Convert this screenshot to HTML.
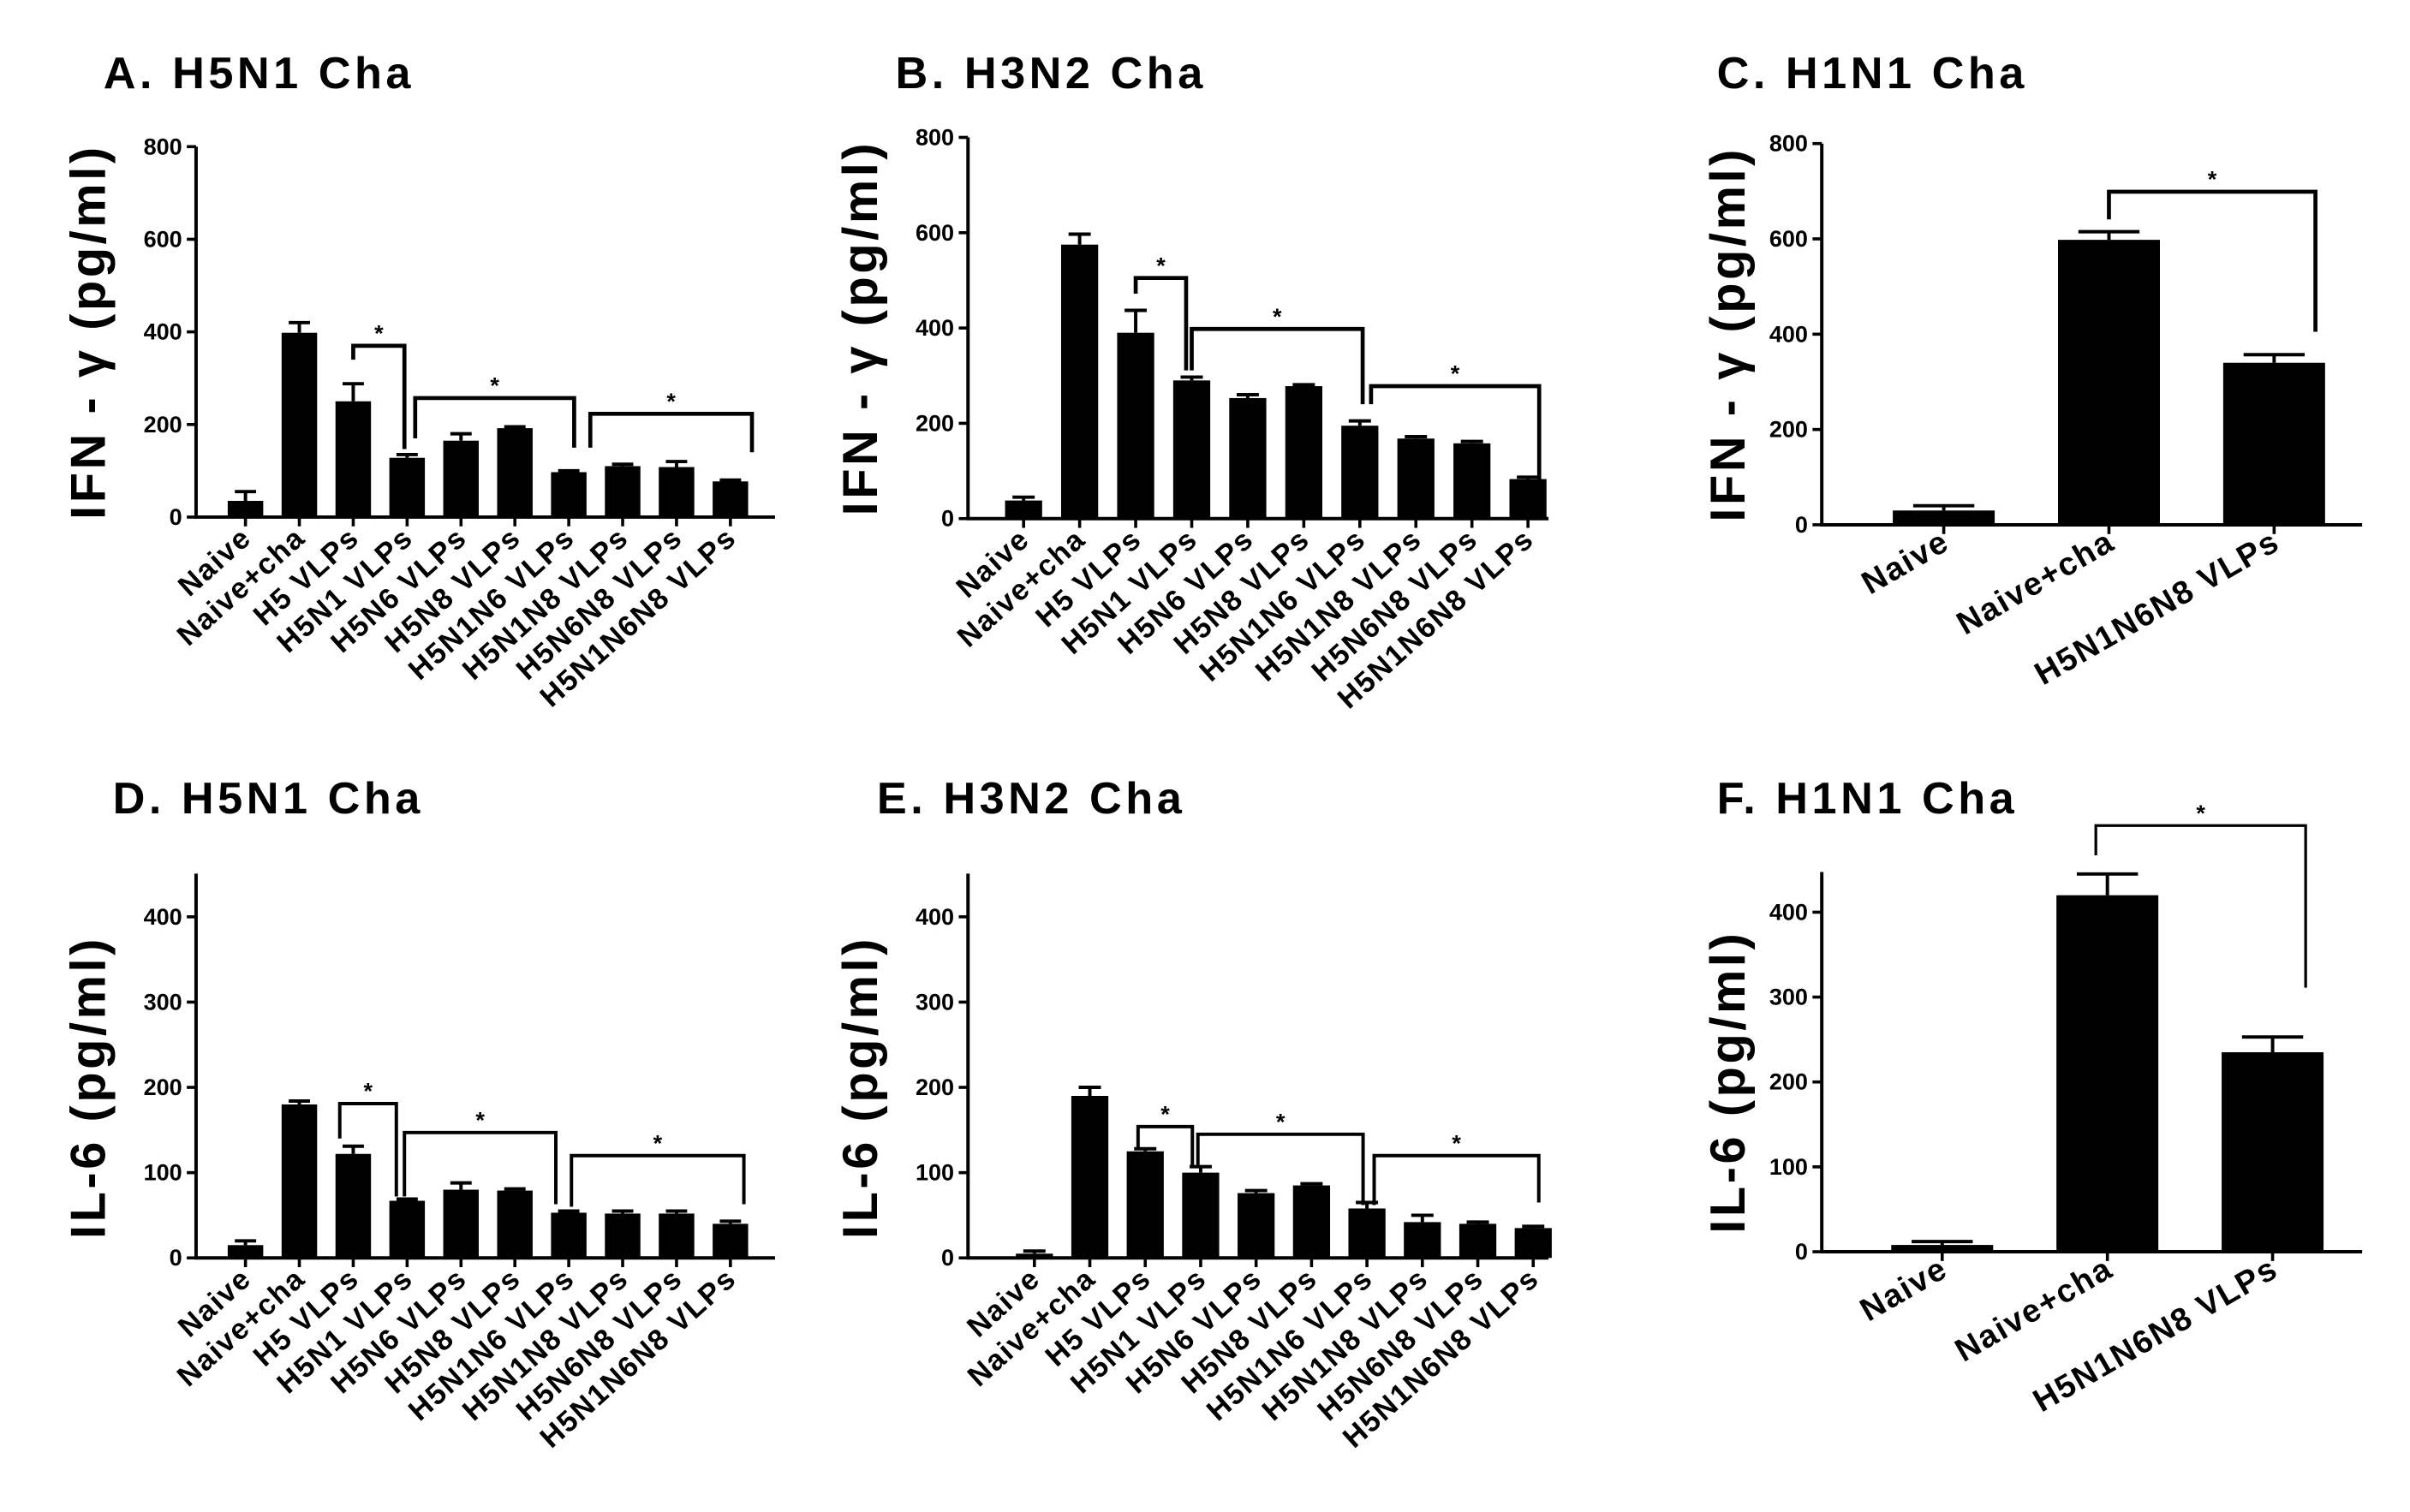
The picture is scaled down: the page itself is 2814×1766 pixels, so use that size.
<!DOCTYPE html>
<html><head><meta charset="utf-8"><style>
html,body{margin:0;padding:0;background:#fff;}
svg{display:block;}
text{font-family:"Liberation Sans",sans-serif;font-weight:bold;fill:#000;}
</style></head><body>
<svg id="fig" width="2814" height="1766" viewBox="0 0 1561 979.6" xmlns="http://www.w3.org/2000/svg"></svg>
<script>
// ---- data ----
const catsLong = ["Naive","Naive+cha","H5 VLPs","H5N1 VLPs","H5N6 VLPs","H5N8 VLPs","H5N1N6 VLPs","H5N1N8 VLPs","H5N6N8 VLPs","H5N1N6N8 VLPs"];
const catsShort = ["Naive","Naive+cha","H5N1N6N8 VLPs"];
const ticksIFN = [0,200,400,600,800];
const ticksIL6 = [0,100,200,300,400];
const valsA = [35,398,250,128,165,192,97,110,108,77];
const errA  = [20,22,38,7,15,3,3,4,12,3];
const valsB = [38,575,390,290,253,278,195,168,158,83];
const errB  = [7,22,47,7,7,3,10,4,4,4];
const valsC = [30,598,340];
const errC  = [10,17,17];
const valsD = [15,180,122,67,80,79,53,52,52,40];
const errD  = [5,4,9,2,8,2,2,3,3,3];
const valsE = [5,190,125,100,76,85,58,42,40,35];
const errE  = [3,10,3,7,3,2,7,8,2,2];
const valsF = [8,420,235];
const errF  = [4,25,18];
// brackets: [fromCat, toCat, topValue, leftEndValue, rightEndValue]
const brA = [[2,2.95,370,340,147],[3.15,6.1,257,170,150],[6.4,9.4,223,150,140]];
const brB = [[2,2.9,505,472,311],[3.0,6.05,398,311,240],[6.2,9.2,278,240,65]];
const brC = [[1,2.25,699,641,405]];
const brD = [[1.75,2.8,181,140,72],[2.95,5.76,147,72,63],[6.05,9.25,120,60,63]];
const brE = [[1.87,2.85,154,128,107],[2.95,5.93,145,107,62],[6.13,9.1,120,62,65]];
const brF = [[0.93,2.2,502,467,311]];

// ---- layout ----
const NS="http://www.w3.org/2000/svg";
const svg=document.getElementById('fig');
function mk(tag,attrs,parent){const e=document.createElementNS(NS,tag);for(const k in attrs)e.setAttribute(k,attrs[k]);(parent||svg).appendChild(e);return e;}

function panel(p){
  const g=mk('g',{});
  
  
  const yMax=p.ticks[p.ticks.length-1];
  const ys=v=>p.y0-(v/yMax)*(p.y0-p.yTop);
  const xs=i=>p.xFirst+i*p.step;
  const t=mk('text',{x:p.tx,y:p.ty,'font-size':29,'letter-spacing':2.5},g);t.textContent=p.title;
  
  
  const ax=mk('line',{x1:p.ax,y1:p.axTop,x2:p.ax,y2:p.y0,stroke:'#000','stroke-width':2.2},g);
  
  
  p.ticks.forEach(v=>{
    mk('line',{x1:p.ax-6,y1:ys(v),x2:p.ax,y2:ys(v),stroke:'#000','stroke-width':2},g);
    const tl=mk('text',{x:p.ax-9,y:ys(v)+5,'font-size':15,'text-anchor':'end'},g);tl.textContent=v;
    
    
  });
  const yt=mk('text',{x:0,y:0,'font-size':p.ytSize,'letter-spacing':2,'text-anchor':'middle',transform:`translate(${p.ytx},${(p.y0+p.yTop)/2}) rotate(-90)`},g);
  yt.textContent=p.ytitle;
  
  
  const xa=mk('line',{x1:p.ax-1,y1:p.y0,x2:p.axEnd,y2:p.y0,stroke:'#000','stroke-width':2.2},g);
  
  
  p.vals.forEach((v,i)=>{
    const cx=xs(i);
    const b=mk('rect',{x:cx-p.bw/2,y:ys(v),width:p.bw,height:p.y0-ys(v),fill:'#000'},g);
    
    
    const top=ys(v+p.err[i]);
    mk('line',{x1:cx,y1:ys(v),x2:cx,y2:top,stroke:'#000','stroke-width':2.2},g);
    mk('line',{x1:cx-p.bw*0.3,y1:top,x2:cx+p.bw*0.3,y2:top,stroke:'#000','stroke-width':2.2},g);
    mk('line',{x1:cx,y1:p.y0,x2:cx,y2:p.y0+6,stroke:'#000','stroke-width':2},g);
    const lb=mk('text',{x:0,y:0,'font-size':p.lblSize,'letter-spacing':1,'text-anchor':'end',transform:`translate(${cx+5},${p.y0+15}) rotate(${p.rot})`},g);
    lb.textContent=p.cats[i];
    
    
  });
  p.br.forEach(b=>{
    const x1=xs(b[0]),x2=xs(b[1]);
    const pl=mk('polyline',{points:`${x1},${ys(b[3])} ${x1},${ys(b[2])} ${x2},${ys(b[2])} ${x2},${ys(b[4])}`,fill:'none',stroke:'#000','stroke-width':p.brW},g);
    
    
    const s=mk('text',{x:(x1+x2)/2,y:ys(b[2])-3,'font-size':15,'text-anchor':'middle','font-weight':'normal'},g);s.textContent='*';
    
    
  });
}

panel({name:'panel-a-ifn-h5n1',title:'A. H5N1 Cha',tx:67,ty:57,ax:127,axTop:95,yTop:95,y0:335,axEnd:502,xFirst:159,step:34.9,bw:23,ticks:ticksIFN,vals:valsA,err:errA,cats:catsLong,br:brA,ytitle:'IFN - γ (pg/ml)',ytx:68,ytSize:32,lblSize:19,rot:-42,brW:2.6});
panel({name:'panel-b-ifn-h3n2',title:'B. H3N2 Cha',tx:580,ty:57,ax:627,axTop:89,yTop:89,y0:336,axEnd:1003,xFirst:663,step:36.3,bw:24,ticks:ticksIFN,vals:valsB,err:errB,cats:catsLong,br:brB,ytitle:'IFN - γ (pg/ml)',ytx:568,ytSize:32,lblSize:19,rot:-42,brW:2.6});
panel({name:'panel-c-ifn-h1n1',title:'C. H1N1 Cha',tx:1112,ty:57,ax:1180,axTop:93,yTop:93,y0:340,axEnd:1530,xFirst:1259,step:107,bw:66,ticks:ticksIFN,vals:valsC,err:errC,cats:catsShort,br:brC,ytitle:'IFN - γ (pg/ml)',ytx:1130,ytSize:32,lblSize:21,rot:-30,brW:2.6});
panel({name:'panel-d-il6-h5n1',title:'D. H5N1 Cha',tx:73,ty:527,ax:127,axTop:566,yTop:594,y0:815,axEnd:502,xFirst:159,step:34.9,bw:23,ticks:ticksIL6,vals:valsD,err:errD,cats:catsLong,br:brD,ytitle:'IL-6 (pg/ml)',ytx:68,ytSize:32,lblSize:19,rot:-42,brW:2.2});
panel({name:'panel-e-il6-h3n2',title:'E. H3N2 Cha',tx:568,ty:527,ax:627,axTop:566,yTop:594,y0:815,axEnd:1003,xFirst:670,step:35.9,bw:24,ticks:ticksIL6,vals:valsE,err:errE,cats:catsLong,br:brE,ytitle:'IL-6 (pg/ml)',ytx:568,ytSize:32,lblSize:19,rot:-42,brW:2.2});
panel({name:'panel-f-il6-h1n1',title:'F. H1N1 Cha',tx:1112,ty:527,ax:1180,axTop:565,yTop:591,y0:811,axEnd:1530,xFirst:1258,step:107,bw:66,ticks:ticksIL6,vals:valsF,err:errF,cats:catsShort,br:brF,ytitle:'IL-6 (pg/ml)',ytx:1130,ytSize:32,lblSize:21,rot:-30,brW:1.8});
</script>
</body></html>
